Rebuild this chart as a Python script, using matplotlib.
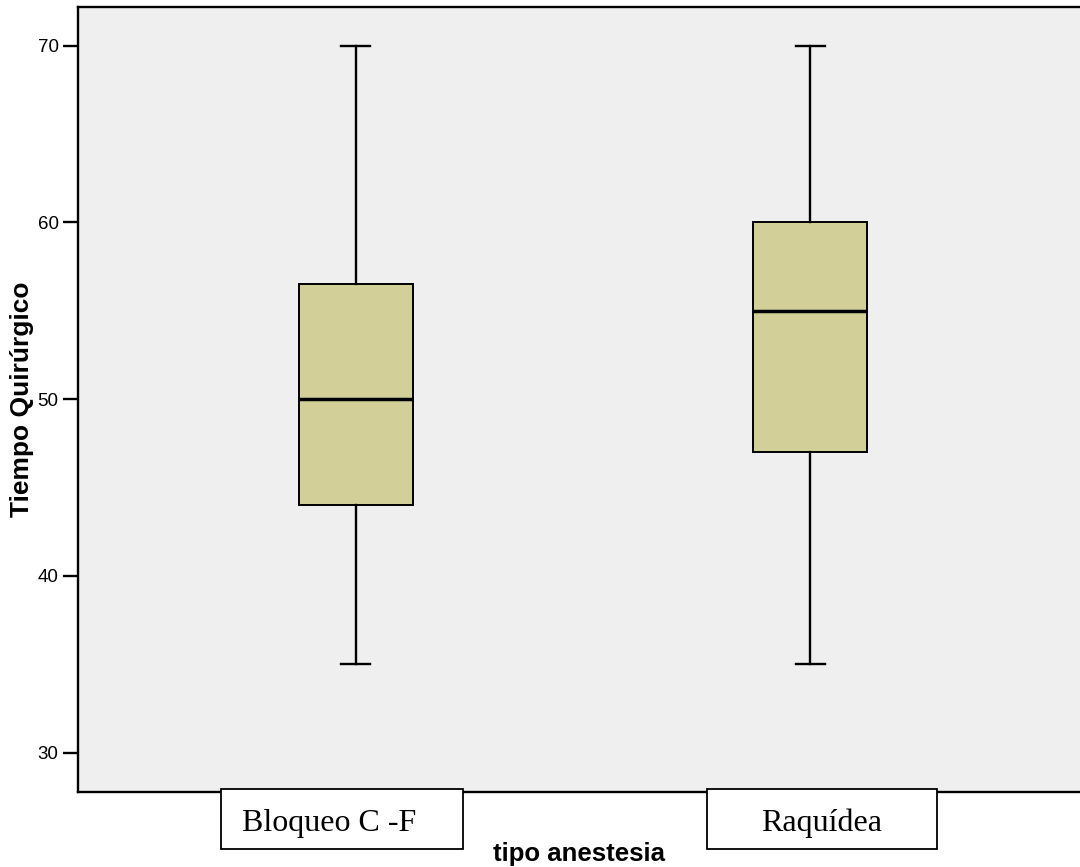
import matplotlib
matplotlib.use("Agg")
import matplotlib.pyplot as plt
from matplotlib.patches import Rectangle

# ---- data ----
categories = ["Bloqueo C -F", "Raquídea"]
whisker_low = [35, 35]
q1 = [44, 47]
median = [50, 55]
q3 = [56.5, 60]
whisker_high = [70, 70]
yticks = [30, 40, 50, 60, 70]
xlabel = "tipo anestesia"
ylabel = "Tiempo Quirúrgico"

W, H = 1080, 867
fig = plt.figure(figsize=(W / 100, H / 100), dpi=100)
fig.patch.set_facecolor("white")

def fx(px):
    return px / W

def fy(py):
    return 1 - py / H

ax_left, ax_right, ax_top, ax_bottom = 78, 1088, 6.7, 792
ax = fig.add_axes([fx(ax_left), fy(ax_bottom), fx(ax_right - ax_left), (ax_bottom - ax_top) / H])
ax.set_facecolor("#EFEFEF")

stats = []
for i, c in enumerate(categories):
    stats.append(dict(label=c, whislo=whisker_low[i], q1=q1[i], med=median[i],
                      q3=q3[i], whishi=whisker_high[i], fliers=[]))

positions = list(range(len(categories)))
ax.bxp(stats, positions=positions, widths=0.251, patch_artist=True, showfliers=False,
       boxprops=dict(facecolor="#D3CF98", edgecolor="black", linewidth=1.4),
       medianprops=dict(color="black", linewidth=2.5),
       whiskerprops=dict(color="black", linewidth=1.7),
       capprops=dict(color="black", linewidth=1.7),
       capwidths=0.064)

ax.set_xlim(-0.612, 1.612)
ax.set_ylim(27.78, 72.2)
ax.set_yticks(yticks)
ax.set_yticklabels([str(t) for t in yticks], fontsize=13.5, family="Liberation Sans")
ax.tick_params(axis="y", length=11, width=1.7, pad=3, color="black")
ax.set_xticks([])
for s in ["left", "bottom", "top"]:
    ax.spines[s].set_linewidth(1.7)
    ax.spines[s].set_color("black")
ax.spines["right"].set_visible(False)

# category label boxes (SPSS style)
label_boxes = [(221, 463), (707, 937)]
text_x = [(242, "left"), (822, "center")]
for (x0, x1), (tx, ha), c in zip(label_boxes, text_x, categories):
    r = Rectangle((fx(x0), fy(849)), fx(x1 - x0), (849 - 789) / H, transform=fig.transFigure,
                  facecolor="white", edgecolor="black", linewidth=1.3, zorder=5)
    fig.add_artist(r)
    fig.text(fx(tx), fy(831), c, ha=ha, va="baseline", fontsize=23,
             family="Liberation Serif", zorder=6)

fig.text(fx((ax_left + 1080) / 2), fy(861), xlabel, ha="center", va="baseline",
         fontsize=18.5, fontweight="bold", family="Liberation Sans")
fig.text(fx(22.5), fy((ax_top + ax_bottom) / 2), ylabel, ha="center", va="center",
         rotation=90, fontsize=19, fontweight="bold", family="Liberation Sans")

fig.savefig("out.png", dpi=100)
